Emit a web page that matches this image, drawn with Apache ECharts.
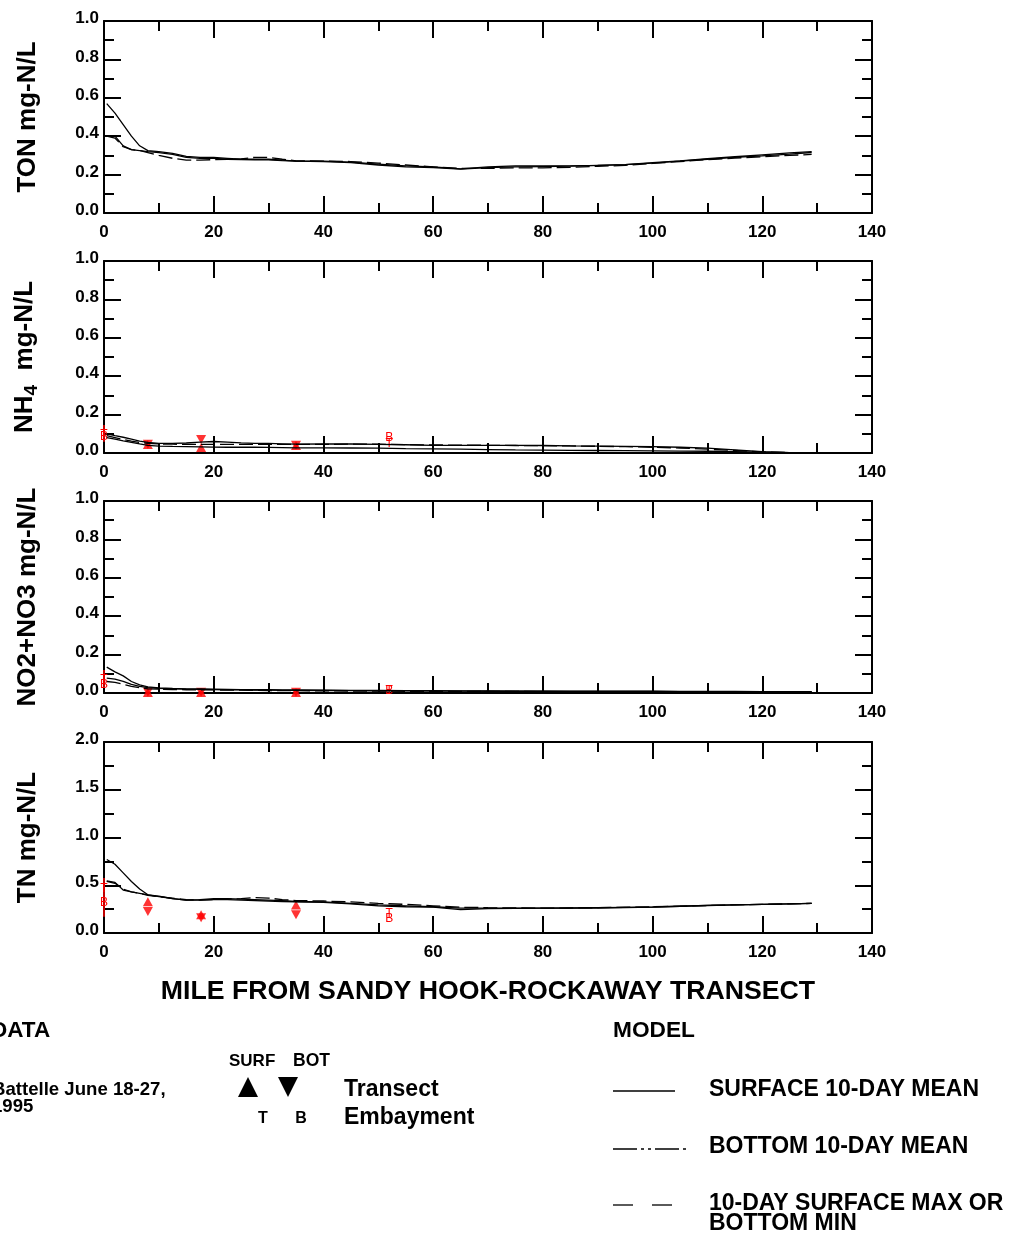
<!DOCTYPE html>
<html>
<head>
<meta charset="utf-8">
<script src="https://cdn.jsdelivr.net/npm/echarts@6/dist/echarts.min.js"></script>
<style>
  html, body { margin: 0; padding: 0; background: #fff; }
  #chart { width: 1009px; height: 1234px; }
</style>
</head>
<body>
<div id="chart"></div>
<script>
// Model output nodes along the transect (miles)
const miles = [0.5, 2, 3.5, 5, 6.5, 8, 10, 12.5, 15, 17.5, 20, 22.5, 25, 27.5, 30, 32.5, 35, 40, 45, 50,
               55, 60, 65, 70, 75, 80, 85, 90, 95, 100, 105, 110, 115, 120, 125, 129];

// TON (mg-N/L)
const tonSurfMax  = [0.57, 0.52, 0.46, 0.40, 0.35, 0.325, 0.32, 0.31, 0.295, 0.29, 0.29, 0.285, 0.28, 0.28, 0.28, 0.275, 0.27, 0.27, 0.265, 0.255,
                     0.245, 0.24, 0.23, 0.24, 0.245, 0.245, 0.245, 0.248, 0.252, 0.262, 0.272, 0.283, 0.293, 0.303, 0.313, 0.32];
const tonSurfMean = [0.40, 0.40, 0.35, 0.33, 0.325, 0.32, 0.315, 0.305, 0.29, 0.285, 0.285, 0.28, 0.278, 0.277, 0.277, 0.273, 0.27, 0.268, 0.262, 0.25,
                     0.24, 0.237, 0.228, 0.236, 0.24, 0.242, 0.244, 0.248, 0.252, 0.26, 0.27, 0.28, 0.29, 0.298, 0.307, 0.315];
const tonBotMean  = [0.40, 0.39, 0.345, 0.33, 0.325, 0.315, 0.30, 0.285, 0.275, 0.275, 0.278, 0.28, 0.282, 0.29, 0.29, 0.28, 0.272, 0.27, 0.268, 0.26,
                     0.25, 0.24, 0.232, 0.232, 0.235, 0.235, 0.238, 0.243, 0.248, 0.258, 0.268, 0.278, 0.286, 0.293, 0.30, 0.305];

// NH4 (mg-N/L)
const nh4SurfMax  = [0.10, 0.09, 0.082, 0.072, 0.062, 0.055, 0.05, 0.05, 0.052, 0.057, 0.06, 0.057, 0.053, 0.05, 0.05, 0.048, 0.046, 0.047, 0.047, 0.045,
                     0.043, 0.04, 0.04, 0.04, 0.04, 0.039, 0.037, 0.036, 0.035, 0.033, 0.03, 0.025, 0.016, 0.007, 0.002, 0.0];
const nh4SurfMean = [0.08, 0.072, 0.063, 0.055, 0.047, 0.04, 0.036, 0.034, 0.033, 0.032, 0.031, 0.03, 0.03, 0.03, 0.029, 0.028, 0.027, 0.027, 0.026, 0.025,
                     0.023, 0.022, 0.02, 0.018, 0.016, 0.015, 0.014, 0.013, 0.012, 0.011, 0.01, 0.009, 0.007, 0.004, 0.002, 0.0];
const nh4BotMean  = [0.09, 0.08, 0.07, 0.062, 0.055, 0.05, 0.047, 0.046, 0.045, 0.045, 0.045, 0.045, 0.045, 0.045, 0.045, 0.045, 0.045, 0.045, 0.046, 0.046,
                     0.044, 0.042, 0.041, 0.04, 0.039, 0.038, 0.037, 0.035, 0.033, 0.03, 0.026, 0.02, 0.013, 0.006, 0.002, 0.0];

// NO2+NO3 (mg-N/L)
const no3SurfMax  = [0.135, 0.11, 0.089, 0.06, 0.042, 0.032, 0.027, 0.024, 0.022, 0.021, 0.02, 0.019, 0.018, 0.017, 0.017, 0.016, 0.016, 0.015, 0.014, 0.013,
                     0.012, 0.012, 0.011, 0.011, 0.01, 0.01, 0.01, 0.01, 0.009, 0.009, 0.008, 0.008, 0.008, 0.007, 0.007, 0.007];
const no3SurfMean = [0.077, 0.072, 0.06, 0.045, 0.035, 0.028, 0.024, 0.022, 0.02, 0.019, 0.018, 0.017, 0.016, 0.015, 0.015, 0.014, 0.014, 0.013, 0.012, 0.011,
                     0.011, 0.01, 0.01, 0.009, 0.009, 0.009, 0.008, 0.008, 0.008, 0.008, 0.007, 0.007, 0.007, 0.006, 0.006, 0.006];
const no3BotMean  = [0.06, 0.055, 0.045, 0.035, 0.028, 0.022, 0.02, 0.018, 0.017, 0.016, 0.016, 0.015, 0.015, 0.014, 0.013, 0.012, 0.012, 0.011, 0.01, 0.01,
                     0.009, 0.009, 0.008, 0.008, 0.008, 0.007, 0.007, 0.007, 0.006, 0.006, 0.006, 0.006, 0.005, 0.005, 0.005, 0.005];

// TN (mg-N/L)
const tnSurfMax   = [0.77, 0.72, 0.63, 0.54, 0.46, 0.40, 0.385, 0.36, 0.345, 0.345, 0.35, 0.35, 0.345, 0.34, 0.335, 0.33, 0.325, 0.32, 0.305, 0.285,
                     0.275, 0.27, 0.245, 0.255, 0.258, 0.26, 0.26, 0.262, 0.265, 0.27, 0.28, 0.29, 0.295, 0.30, 0.305, 0.31];
const tnSurfMean  = [0.545, 0.53, 0.45, 0.43, 0.415, 0.40, 0.38, 0.36, 0.345, 0.35, 0.36, 0.36, 0.355, 0.35, 0.345, 0.34, 0.33, 0.325, 0.31, 0.295,
                     0.285, 0.275, 0.26, 0.26, 0.26, 0.26, 0.262, 0.265, 0.268, 0.272, 0.28, 0.288, 0.295, 0.30, 0.305, 0.31];
const tnBotMean   = [0.54, 0.52, 0.46, 0.43, 0.415, 0.395, 0.38, 0.365, 0.35, 0.345, 0.35, 0.355, 0.36, 0.37, 0.365, 0.35, 0.34, 0.335, 0.325, 0.31,
                     0.30, 0.285, 0.27, 0.265, 0.262, 0.26, 0.262, 0.265, 0.27, 0.275, 0.28, 0.288, 0.295, 0.30, 0.305, 0.31];

// Battelle June 18-27, 1995 survey: transect stations (surface / bottom)
const transectMiles = [8, 17.7, 35];
const nh4TransSurf = [0.044, 0.029, 0.039];
const nh4TransBot  = [0.046, 0.070, 0.041];
const no3TransSurf = [0.003, 0.003, 0.003];
const no3TransBot  = [0.004, 0.004, 0.004];
const tnTransSurf  = [0.328, 0.190, 0.293];
const tnTransBot   = [0.225, 0.160, 0.190];

// Embayment stations (T = surface, B = bottom) and observed range at mile 0
const embayMiles = [0, 52];
const nh4EmbT = [0.095, 0.047];
const nh4EmbB = [0.085, 0.078];
const no3EmbT = [0.068, 0.010];
const no3EmbB = [0.042, 0.010];
const tnEmbT  = [0.460, 0.200];
const tnEmbB  = [0.320, 0.150];
const nh4Range = [0.059, 0.146];
const no3Range = [0.026, 0.120];
const tnRange  = [0.170, 0.575];

// Axis ticks
const xTicks = [0, 20, 40, 60, 80, 100, 120, 140];
const yTicksUnit = [0.0, 0.2, 0.4, 0.6, 0.8, 1.0];
const yTicksTN = [0.0, 0.5, 1.0, 1.5, 2.0];

const FONT = '"Liberation Sans", Arial, sans-serif';
const RED = '#ff0000';

const panels = [
  { top: 21,  height: 192, yTicks: yTicksUnit, name: 'TON mg-N/L',
    lines: [tonSurfMax, tonSurfMean, tonBotMean] },
  { top: 261, height: 192, yTicks: yTicksUnit, name: '{a|NH}{sub|4}{a|  mg-N/L}',
    lines: [nh4SurfMax, nh4SurfMean, nh4BotMean],
    trans: [nh4TransSurf, nh4TransBot], emb: [nh4EmbT, nh4EmbB], range: nh4Range },
  { top: 501, height: 192, yTicks: yTicksUnit, name: 'NO2+NO3 mg-N/L',
    lines: [no3SurfMax, no3SurfMean, no3BotMean],
    trans: [no3TransSurf, no3TransBot], emb: [no3EmbT, no3EmbB], range: no3Range },
  { top: 742, height: 191, yTicks: yTicksTN, name: 'TN mg-N/L',
    lines: [tnSurfMax, tnSurfMean, tnBotMean],
    trans: [tnTransSurf, tnTransBot], emb: [tnEmbT, tnEmbB], range: tnRange }
];

const axisLine = { show: true, onZero: false, lineStyle: { color: '#000', width: 2 } };
const axisTick = { show: true, inside: true, length: 17, lineStyle: { color: '#000', width: 2 } };
const minorTick = { show: true, splitNumber: 2, length: 10, lineStyle: { color: '#000', width: 2 } };

const grid = [], xAxis = [], yAxis = [], series = [];

panels.forEach((p, i) => {
  grid.push({ left: 104, width: 768, top: p.top, height: p.height, outerBoundsMode: 'none' });
  const xBase = {
    type: 'value', gridIndex: i,
    min: xTicks[0], max: xTicks[xTicks.length - 1], interval: xTicks[1] - xTicks[0],
    axisLine, axisTick, minorTick, splitLine: { show: false }, minorSplitLine: { show: false }
  };
  xAxis.push(Object.assign({}, xBase, {
    position: 'bottom',
    axisLabel: { show: true, margin: 11, color: '#000', fontFamily: FONT, fontWeight: 'bold', fontSize: 17 }
  }));
  xAxis.push(Object.assign({}, xBase, { position: 'top', axisLabel: { show: false } }));

  const yt = p.yTicks;
  const yBase = {
    type: 'value', gridIndex: i,
    min: yt[0], max: yt[yt.length - 1], interval: yt[1] - yt[0],
    axisLine, axisTick, minorTick, splitLine: { show: false }, minorSplitLine: { show: false }
  };
  yAxis.push(Object.assign({}, yBase, {
    position: 'left',
    name: p.name, nameLocation: 'middle', nameGap: 63, nameRotate: 90, nameMoveOverlap: false,
    nameTextStyle: {
      color: '#000', fontFamily: FONT, fontWeight: 'bold', fontSize: 26,
      rich: {
        a: { color: '#000', fontFamily: FONT, fontWeight: 'bold', fontSize: 26 },
        sub: { color: '#000', fontFamily: FONT, fontWeight: 'bold', fontSize: 19, verticalAlign: 'bottom', padding: [14, 0, 0, 0] }
      }
    },
    axisLabel: {
      show: true, margin: 5, color: '#000', fontFamily: FONT, fontWeight: 'bold', fontSize: 17,
      verticalAlign: 'bottom', lineHeight: 5, formatter: v => v.toFixed(1)
    }
  }));
  yAxis.push(Object.assign({}, yBase, { position: 'right', axisLabel: { show: false } }));

  const xa = i * 2, ya = i * 2;
  const styles = [
    { type: 'solid', width: 1.3 },
    { type: 'solid', width: 1.3 },
    { type: [14, 5], width: 1.3 }
  ];
  p.lines.forEach((arr, k) => {
    series.push({
      type: 'line', xAxisIndex: xa, yAxisIndex: ya,
      data: miles.map((m, j) => [m, arr[j]]),
      symbol: 'none', smooth: false, silent: true,
      lineStyle: Object.assign({ color: '#000' }, styles[k])
    });
  });

  if (p.trans) {
    // surface: upward triangle, bottom: downward triangle
    series.push({
      type: 'scatter', xAxisIndex: xa, yAxisIndex: ya, silent: true,
      symbol: 'triangle', symbolSize: [10, 9],
      itemStyle: { color: RED },
      data: transectMiles.map((m, j) => [m, p.trans[0][j]])
    });
    series.push({
      type: 'scatter', xAxisIndex: xa, yAxisIndex: ya, silent: true,
      symbol: 'path://M0,0L10,0L5,9Z', symbolSize: [10, 9], symbolKeepAspect: false,
      itemStyle: { color: RED },
      data: transectMiles.map((m, j) => [m, p.trans[1][j]])
    });
    // observed range at the embayment station at mile 0
    series.push({
      type: 'custom', xAxisIndex: xa, yAxisIndex: ya, silent: true,
      data: [[embayMiles[0], p.range[0], p.range[1]]],
      renderItem: (params, api) => {
        const a = api.coord([api.value(0), api.value(1)]);
        const b = api.coord([api.value(0), api.value(2)]);
        return { type: 'line', shape: { x1: a[0], y1: a[1], x2: b[0], y2: b[1] },
                 style: { stroke: RED, lineWidth: 1.5 } };
      }
    });
    // embayment letters
    ['T', 'B'].forEach((letter, k) => {
      series.push({
        type: 'custom', xAxisIndex: xa, yAxisIndex: ya, silent: true,
        data: embayMiles.map((m, j) => [m, p.emb[k][j]]),
        renderItem: (params, api) => {
          const c = api.coord([api.value(0), api.value(1)]);
          return { type: 'text', x: c[0], y: c[1],
                   style: { text: letter, fill: RED, fontFamily: FONT, fontSize: 12,
                            align: 'center', verticalAlign: 'middle' } };
        }
      });
    });
  }
});

// Legend and axis title
const txt = (x, y, text, size, align) => ({
  type: 'text', x, y, silent: true,
  style: { text, fill: '#000', fontFamily: FONT, fontWeight: 'bold', fontSize: size,
           align: align || 'left', verticalAlign: 'middle' }
});
const seg = (x1, y1, x2, y2, dash) => ({
  type: 'line', silent: true, shape: { x1, y1, x2, y2 },
  style: { stroke: '#000', lineWidth: 1.3, lineDash: dash || null }
});

const graphic = [
  txt(488, 992, 'MILE FROM SANDY HOOK-ROCKAWAY TRANSECT', 26.7, 'center'),
  txt(-9, 1031, 'DATA', 22.5),
  txt(-8, 1090, 'Battelle June 18-27,', 18.6),
  txt(-8, 1107, '1995', 18.6),
  txt(229, 1061, 'SURF', 17),
  txt(293, 1061, 'BOT', 17.5),
  { type: 'polygon', silent: true, shape: { points: [[238, 1097], [258, 1097], [248, 1077]] }, style: { fill: '#000' } },
  { type: 'polygon', silent: true, shape: { points: [[278, 1077], [298, 1077], [288, 1097]] }, style: { fill: '#000' } },
  txt(344, 1090, 'Transect', 23),
  txt(263, 1119, 'T', 16, 'center'),
  txt(301, 1119, 'B', 16, 'center'),
  txt(344, 1118, 'Embayment', 23),
  txt(613, 1031, 'MODEL', 22.7),
  seg(613, 1091, 675, 1091),
  txt(709, 1090, 'SURFACE 10-DAY MEAN', 23),
  seg(613, 1149, 689, 1149, [24, 4, 3, 4, 3, 4]),
  txt(709, 1147, 'BOTTOM 10-DAY MEAN', 23),
  seg(613, 1205, 633, 1205),
  seg(652, 1205, 672, 1205),
  txt(709, 1204, '10-DAY SURFACE MAX OR', 23),
  txt(709, 1224, 'BOTTOM MIN', 23)
];

const chart = echarts.init(document.getElementById('chart'), null, { renderer: 'canvas' });
chart.setOption({
  backgroundColor: '#fff',
  animation: false,
  grid, xAxis, yAxis, series, graphic
});
</script>
</body>
</html>
